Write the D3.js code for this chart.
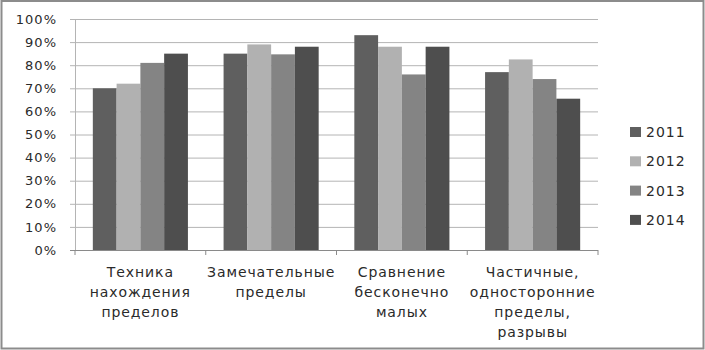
<!DOCTYPE html>
<html>
<head>
<meta charset="utf-8">
<script src="https://cdn.jsdelivr.net/npm/d3@7"></script>
<style>
  html, body { margin: 0; padding: 0; background: #fff; }
  svg { display: block; }
  text { font-family: "DejaVu Sans", sans-serif; fill: #2a2a2a; }
</style>
</head>
<body>
<svg id="chart"></svg>
<script>
// categories and series
const categories = [
  ["Техника", "нахождения", "пределов"],
  ["Замечательные", "пределы"],
  ["Сравнение", "бесконечно", "малых"],
  ["Частичные,", "односторонние", "пределы,", "разрывы"]
];
const years = ["2011", "2012", "2013", "2014"];
const values2011 = [70, 85, 93, 77];
const values2012 = [72, 89, 88, 82.5];
const values2013 = [81, 84.7, 76, 74];
const values2014 = [85, 88, 88, 65.5];
const yTicks = [0, 10, 20, 30, 40, 50, 60, 70, 80, 90, 100];
const seriesColors = ["#5f5f5f", "#b1b1b1", "#848484", "#4e4e4e"];

const W = 705, H = 350;
const margin = { left: 75, right: 107, top: 19, bottom: 100 };
const innerW = W - margin.left - margin.right;
const innerH = H - margin.top - margin.bottom;

const svg = d3.select("#chart").attr("width", W).attr("height", H);

// outer border
svg.append("rect")
  .attr("x", 1.5).attr("y", 1).attr("width", W - 3).attr("height", H - 2.5)
  .attr("fill", "#fff").attr("stroke", "#8c8c8c").attr("stroke-width", 2);

const g = svg.append("g").attr("transform", `translate(${margin.left},${margin.top})`);

const series = [values2011, values2012, values2013, values2014];
const data = categories.map((c, i) => ({
  idx: i,
  vals: years.map((y, j) => ({ year: y, value: series[j][i], color: seriesColors[j] }))
}));

// scales
const x0 = d3.scaleBand().domain(d3.range(categories.length)).range([0, innerW]).padding(0);
const x1 = d3.scaleBand().domain(years).range([0, x0.bandwidth()])
  .paddingInner(0).paddingOuter(0.75);
const y = d3.scaleLinear().domain([0, 100]).range([innerH, 0]);

// gridlines + y ticks
g.append("g")
  .call(d3.axisLeft(y).tickValues(yTicks.filter(d => d > 0)).tickSize(-innerW).tickFormat(""))
  .call(s => s.select(".domain").remove())
  .call(s => s.selectAll("line").attr("stroke", "#b4b4b4").attr("x1", -5));

// vertical axis line
g.append("line")
  .attr("x1", 0.5).attr("x2", 0.5).attr("y1", 0).attr("y2", innerH)
  .attr("stroke", "#b4b4b4");

// y tick labels
g.selectAll(".ylab").data(yTicks).join("text")
  .attr("class", "ylab")
  .attr("x", -18).attr("y", d => y(d))
  .attr("dy", "0.36em")
  .attr("text-anchor", "end")
  .style("font-size", "13px")
  .style("letter-spacing", "1px")
  .text(d => d + "%");

// bars
const groups = g.selectAll(".cat").data(data).join("g")
  .attr("class", "cat")
  .attr("transform", d => `translate(${x0(d.idx)},0)`);

groups.selectAll("rect").data(d => d.vals).join("rect")
  .attr("x", d => x1(d.year))
  .attr("width", x1.bandwidth())
  .attr("y", d => y(d.value))
  .attr("height", d => innerH - y(d.value))
  .attr("fill", d => d.color);

// bottom axis
g.append("g")
  .attr("transform", `translate(0,${innerH})`)
  .call(d3.axisBottom(x0).tickFormat("").tickSize(0))
  .call(s => s.select(".domain").attr("stroke", "#8a8a8a").attr("d", `M-5,0.5H${innerW}`));

// category boundary ticks
g.selectAll(".ctick").data(d3.range(categories.length + 1)).join("line")
  .attr("class", "ctick")
  .attr("x1", d => d * x0.step()).attr("x2", d => d * x0.step())
  .attr("y1", innerH).attr("y2", innerH + 5)
  .attr("stroke", "#8a8a8a");

// category labels
groups.each(function (d) {
  const t = d3.select(this).append("text")
    .attr("text-anchor", "middle")
    .style("font-size", "14px")
    .style("letter-spacing", "0.9px");
  categories[d.idx].forEach((line, k) => {
    t.append("tspan")
      .attr("x", x0.bandwidth() / 2)
      .attr("y", innerH + 27 + k * 20)
      .text(line);
  });
});

// legend
const legend = svg.append("g").attr("transform", "translate(630,132)");
years.forEach((yr, i) => {
  const row = legend.append("g").attr("transform", `translate(0,${i * 29.3})`);
  row.append("rect").attr("x", 0).attr("y", -5).attr("width", 11).attr("height", 10)
    .attr("fill", seriesColors[i]);
  row.append("text").attr("x", 16).attr("y", 0).attr("dy", "0.36em")
    .style("font-size", "14px").style("letter-spacing", "1px").text(yr);
});
</script>
</body>
</html>
